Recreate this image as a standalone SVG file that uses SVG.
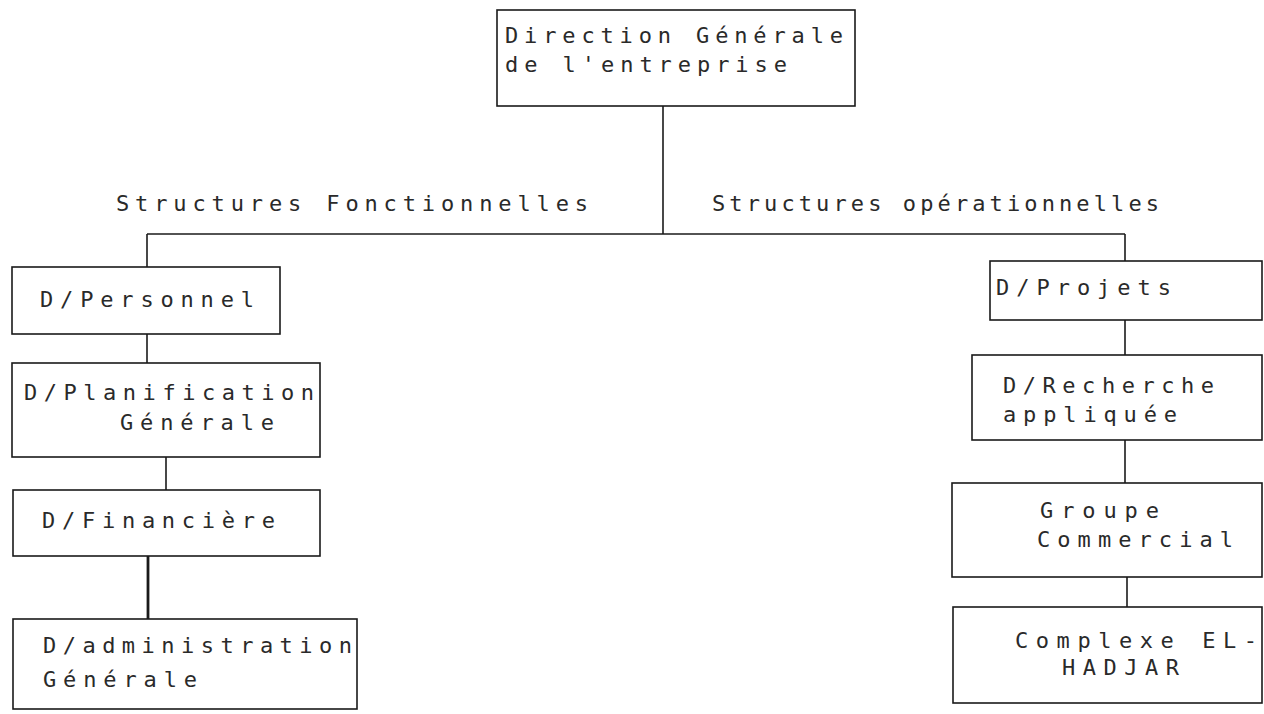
<svg xmlns="http://www.w3.org/2000/svg" width="1264" height="714" viewBox="0 0 1264 714">
<style>
.box{fill:#fff;stroke:#1a1a1a;stroke-width:1.6}
.ln{stroke:#1a1a1a;stroke-width:1.6;fill:none}
.thick{stroke-width:2.8}
text{font-family:"DejaVu Sans Mono","Liberation Mono",monospace;font-size:22px;fill:#2a2a2a}
</style>
<rect width="1264" height="714" fill="#fff"/>
<g id="connectors">
<path class="ln" d="M663,106 V234"/>
<path class="ln" d="M147,234 H1125"/>
<path class="ln" d="M147,234 V267"/>
<path class="ln" d="M1125,234 V261"/>
<path class="ln" d="M147,334 V363"/>
<path class="ln" d="M166,457 V490"/>
<path class="ln thick" d="M148,556 V619"/>
<path class="ln" d="M1125,320 V355"/>
<path class="ln" d="M1125,440 V483"/>
<path class="ln" d="M1127,577 V607"/>
</g>
<g id="labels">
<text x="116" y="211" textLength="472" lengthAdjust="spacing">Structures Fonctionnelles</text>
<text x="712" y="211" textLength="447" lengthAdjust="spacing">Structures opérationnelles</text>
</g>
<g id="n-direction">
<rect class="box" x="497" y="10" width="358" height="96"/>
<text x="505" y="43" textLength="338" lengthAdjust="spacing">Direction Générale</text>
<text x="505" y="72" textLength="282" lengthAdjust="spacing">de l'entreprise</text>
</g>
<g id="n-personnel">
<rect class="box" x="12" y="267" width="268" height="67"/>
<text x="40" y="307" textLength="214" lengthAdjust="spacing">D/Personnel</text>
</g>
<g id="n-planification">
<rect class="box" x="12" y="363" width="308" height="94"/>
<text x="24" y="400" textLength="290" lengthAdjust="spacing">D/Planification</text>
<text x="120" y="430" textLength="154" lengthAdjust="spacing">Générale</text>
</g>
<g id="n-financiere">
<rect class="box" x="13" y="490" width="307" height="66"/>
<text x="42" y="528" textLength="233" lengthAdjust="spacing">D/Financière</text>
</g>
<g id="n-administration">
<rect class="box" x="13" y="619" width="344" height="90"/>
<text x="43" y="653" textLength="309" lengthAdjust="spacing">D/administration</text>
<text x="43" y="687" textLength="154" lengthAdjust="spacing">Générale</text>
</g>
<g id="n-projets">
<rect class="box" x="990" y="261" width="272" height="59"/>
<text x="996" y="295" textLength="175" lengthAdjust="spacing">D/Projets</text>
</g>
<g id="n-recherche">
<rect class="box" x="972" y="355" width="290" height="85"/>
<text x="1003" y="393" textLength="211" lengthAdjust="spacing">D/Recherche</text>
<text x="1003" y="422" textLength="174" lengthAdjust="spacing">appliquée</text>
</g>
<g id="n-groupe">
<rect class="box" x="952" y="483" width="310" height="94"/>
<text x="1040" y="518" textLength="119" lengthAdjust="spacing">Groupe</text>
<text x="1037" y="547" textLength="196" lengthAdjust="spacing">Commercial</text>
</g>
<g id="n-complexe">
<rect class="box" x="953" y="607" width="309" height="96"/>
<text x="1015" y="648" textLength="242" lengthAdjust="spacing">Complexe EL-</text>
<text x="1062" y="675" textLength="117" lengthAdjust="spacing">HADJAR</text>
</g>
</svg>
